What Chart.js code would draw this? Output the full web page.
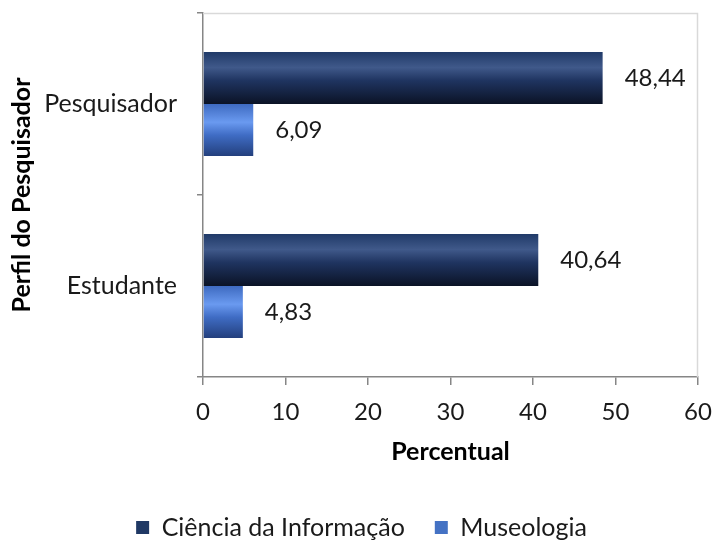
<!DOCTYPE html>
<html>
<head>
<meta charset="utf-8">
<script src="https://cdn.jsdelivr.net/npm/chart.js@4"></script>
<style>
html,body{margin:0;padding:0;background:#fff;}
#wrap{width:714px;height:540px;position:relative;}
</style>
</head>
<body>
<div id="wrap"><canvas id="c" width="714" height="540"></canvas></div>
<script>
const categories = ['Pesquisador', 'Estudante'];
const seriesNames = ['Ciência da Informação', 'Museologia'];
const cienciaInformacao = [48.44, 40.64];
const museologia = [6.09, 4.83];
const xTicks = [0, 10, 20, 30, 40, 50, 60];

const FONT = 'Lato, "Open Sans", sans-serif';

const gradStops = [
  [[0,'#203a68'],[0.3,'#40598a'],[0.55,'#1f3460'],[1,'#0b1326']],
  [[0,'#3e6ac0'],[0.35,'#6a9af0'],[0.6,'#3f6cc4'],[1,'#233f7c']]
];

const gradientPlugin = {
  id: 'barGradient',
  beforeDatasetsDraw(chart) {
    const ctx = chart.ctx;
    chart.data.datasets.forEach((ds, di) => {
      const meta = chart.getDatasetMeta(di);
      meta.data.forEach(el => {
        const top = el.y - el.height / 2, bot = el.y + el.height / 2;
        const g = ctx.createLinearGradient(0, top, 0, bot);
        gradStops[di].forEach(s => g.addColorStop(s[0], s[1]));
        el.options = Object.assign({}, el.options, {backgroundColor: g});
      });
    });
  }
};

const labelPlugin = {
  id: 'valueLabels',
  afterDatasetsDraw(chart) {
    const ctx = chart.ctx;
    ctx.save();
    ctx.font = '24px ' + FONT;
    ctx.fillStyle = '#1a1a1a';
    ctx.textAlign = 'left';
    ctx.textBaseline = 'middle';
    chart.data.datasets.forEach((ds, di) => {
      const meta = chart.getDatasetMeta(di);
      meta.data.forEach((el, i) => {
        const txt = ds.data[i].toFixed(2).replace('.', ',');
        ctx.fillText(txt, el.x + 22, el.y);
      });
    });
    ctx.restore();
  }
};

const framePlugin = {
  id: 'frame',
  beforeDatasetsDraw(chart) {
    const a = chart.chartArea, ctx = chart.ctx;
    ctx.save();
    ctx.strokeStyle = '#d9d9d9';
    ctx.lineWidth = 1.5;
    ctx.beginPath();
    ctx.moveTo(a.left, a.top + 0.5);
    ctx.lineTo(a.right - 0.5, a.top + 0.5);
    ctx.lineTo(a.right - 0.5, a.bottom);
    ctx.stroke();
    ctx.restore();
  }
};

new Chart(document.getElementById('c'), {
  type: 'bar',
  data: {
    labels: categories,
    datasets: [
      {label: seriesNames[0], data: cienciaInformacao, backgroundColor: '#1f3864', borderWidth: 0},
      {label: seriesNames[1], data: museologia, backgroundColor: '#4472c4', borderWidth: 0}
    ]
  },
  options: {
    indexAxis: 'y',
    responsive: false,
    animation: false,
    devicePixelRatio: 1,
    layout: {padding: {top: 13, right: 16, left: 25, bottom: -10}},
    datasets: {bar: {categoryPercentage: 0.572, barPercentage: 1.0}},
    scales: {
      x: {
        min: 0, max: 60,
        afterBuildTicks(scale) { scale.ticks = xTicks.map(v => ({value: v})); },
        grid: {drawOnChartArea: false, drawTicks: true, tickLength: 8, color: '#868686', lineWidth: 1.5},
        border: {color: '#868686', width: 1.5},
        ticks: {color: '#1a1a1a', font: {family: FONT, size: 24}, padding: 13},
        title: {display: true, text: 'Percentual', color: '#000', font: {family: FONT, size: 25, weight: 'bold'}, padding: {top: 10, bottom: 18}},
        afterFit(scale) { scale.height = 108; scale.paddingLeft = 0; scale.paddingRight = 0; }
      },
      y: {
        grid: {offset: true, drawOnChartArea: false, drawTicks: true, tickLength: 6, color: '#868686', lineWidth: 1.5},
        border: {color: '#868686', width: 1.5},
        ticks: {color: '#1a1a1a', font: {family: FONT, size: 25}, padding: 20},
        title: {display: true, text: 'Perfil do Pesquisador', color: '#000', font: {family: FONT, size: 25, weight: 'bold'}, padding: {top: -18, bottom: 0}},
        afterFit(scale) { scale.width = 178; scale.paddingTop = 0; scale.paddingBottom = 0; }
      }
    },
    plugins: {
      legend: {
        position: 'bottom',
        labels: {
          color: '#1a1a1a',
          font: {family: FONT, size: 25},
          boxWidth: 13, boxHeight: 13,
          padding: 30
        }
      },
      tooltip: {enabled: false}
    }
  },
  plugins: [gradientPlugin, framePlugin, labelPlugin]
});
</script>
</body>
</html>
